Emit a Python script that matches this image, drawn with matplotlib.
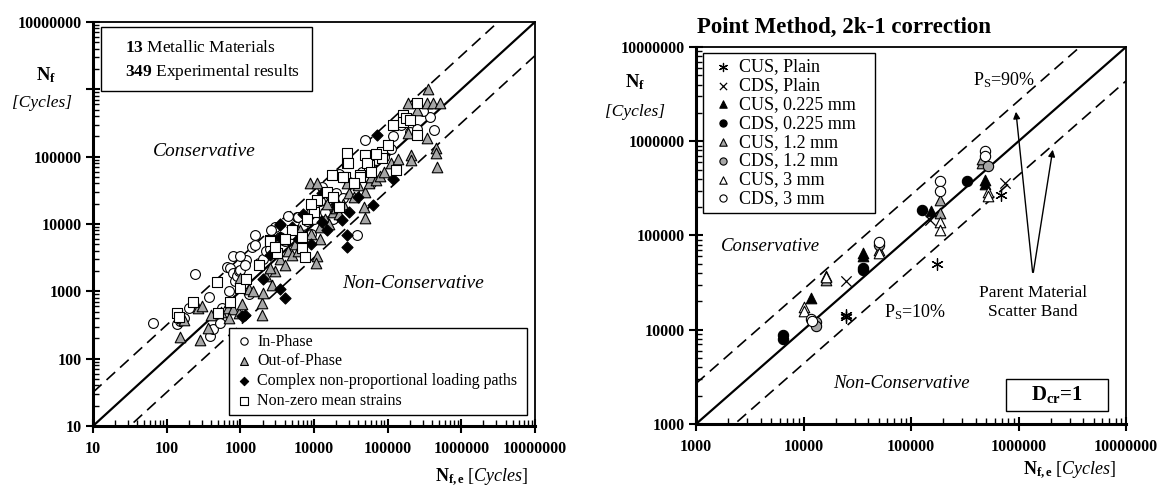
import numpy as np
import matplotlib.pyplot as plt
from matplotlib.patches import Rectangle
from matplotlib.ticker import LogLocator, NullFormatter

plt.rcParams['font.family'] = ['Liberation Serif', 'DejaVu Serif']
plt.rcParams['mathtext.fontset'] = 'custom'
plt.rcParams['mathtext.rm'] = 'Liberation Serif'
plt.rcParams['mathtext.it'] = 'Liberation Serif:italic'
plt.rcParams['mathtext.bf'] = 'Liberation Serif:bold'

# ---- left panel data: (estimated life, experimental life) in cycles ----
in_phase = [
    (65, 340), (140, 330), (150, 360), (170, 400), (200, 560), (240, 1800), (380, 830), (390, 220), (420, 280), (530, 340),
    (560, 560), (650, 2300), (720, 2200), (790, 1900), (800, 3300), (850, 1400), (900, 1700), (950, 2000), (1000, 2100), (1100, 1300),
    (1200, 2900), (1300, 900), (1450, 4600), (1600, 6900), (1600, 4900), (1800, 2600), (2000, 3000), (2200, 4000), (2500, 4300), (3000, 9000),
    (3500, 6500), (4000, 5500), (5000, 7200), (5800, 12500), (6000, 12700), (7000, 9500), (8000, 11000), (9000, 7000), (10000, 12000), (12000, 22000),
    (14000, 15000), (16000, 28000), (20000, 29000), (25000, 24000), (30000, 42000), (38000, 6900), (45000, 60000), (49000, 178000), (60000, 40000), (70000, 90000),
    (90000, 100000), (110000, 130000), (150000, 300000), (160000, 420000), (170000, 350000), (200000, 230000), (250000, 260000), (370000, 390000), (420000, 250000), (300000, 480000),
    (700, 1000), (1000, 3400), (1150, 2500), (2600, 8000), (4500, 13000), (13000, 35000), (18000, 12000), (22000, 55000), (35000, 30000), (120000, 200000),
]
out_of_phase = [
    (150, 210), (160, 400), (170, 380), (280, 190), (265, 560), (300, 600), (360, 290), (550, 500), (680, 560), (700, 700),
    (800, 550), (990, 1600), (950, 480), (1050, 650), (1950, 450), (1950, 670), (2050, 950), (2650, 1240), (2200, 1700), (1300, 1100),
    (3000, 2000), (3500, 3000), (4000, 2500), (4500, 4000), (5000, 3500), (5500, 5000), (6000, 4000), (7000, 6000), (8200, 14500), (8700, 41000),
    (11000, 41000), (11000, 3300), (10500, 2650), (12000, 6000), (12000, 9000), (14000, 12000), (16000, 10000), (18000, 15000), (20000, 17000), (22000, 14000),
    (25000, 20000), (30000, 29000), (35000, 25000), (40000, 38000), (48000, 18000), (50000, 12300), (50000, 30000), (55000, 40000), (60000, 50000), (70000, 45000),
    (78000, 51000), (90000, 60000), (110000, 80000), (140000, 93000), (186000, 225000), (186000, 630000), (210000, 107000), (210000, 90000), (340000, 630000), (340000, 190000),
    (350000, 1000000), (410000, 630000), (450000, 135000), (450000, 115000), (470000, 71000), (510000, 630000), (250000, 500000), (3500, 6000), (6500, 8000), (9000, 7000),
    (15000, 20000), (28000, 40000), (1500, 1000), (2500, 2200), (700, 400), (400, 450),
]
complex_np = [
    (1050, 430), (1150, 440), (3500, 1100), (4000, 800), (2000, 1500), (3500, 9700), (3500, 10000), (3500, 6400), (5000, 9000), (6000, 6000),
    (13000, 29000), (12800, 10700), (15000, 8000), (24000, 11500), (28000, 6900), (28000, 4600), (30000, 15000), (63000, 19000), (71000, 210000), (118000, 46000),
    (20000, 20000), (9000, 5000), (40000, 25000), (2500, 3500), (7000, 14000),
]
mean_strain = [
    (138, 480), (145, 420), (230, 690), (480, 1380), (500, 480), (720, 690), (990, 1130), (1200, 1500), (2500, 5800), (2500, 5500),
    (3100, 3700), (6800, 6400), (6800, 4400), (7500, 3200), (11000, 23000), (22000, 18000), (26000, 50000), (42000, 53000), (17500, 53000), (28000, 80000),
    (56000, 75000), (28000, 115000), (29000, 80000), (49000, 107000), (52000, 80000), (85000, 118000), (85000, 95000), (130000, 63000), (42000, 50000), (25000, 50000),
    (163000, 420000), (163000, 330000), (250000, 630000), (250000, 210000), (180000, 380000), (15000, 30000), (10000, 15000), (9000, 20000), (5000, 8000), (4000, 6000),
    (18000, 25000), (35000, 40000), (60000, 60000), (70000, 110000), (100000, 150000), (120000, 300000), (200000, 350000), (1800, 2500), (3000, 4500), (8000, 12000),
]

# ---- right panel data ----
cus_plain = [(25000, 14500), (25000, 13500), (174000, 50000), (680000, 270000)]
cds_plain = [(25000, 32500), (750000, 360000), (150000, 145000)]
cus_0225 = [(11700, 21500), (35500, 65000), (35500, 60000), (155000, 180000), (490000, 390000), (490000, 350000)]
cds_0225 = [(6500, 8800), (6500, 7900), (35500, 45500), (35500, 43000), (126000, 187000), (335000, 375000)]
cus_12 = [(16300, 37000), (16300, 34000), (186000, 240000), (186000, 175000), (460000, 590000), (460000, 650000), (50000, 70000)]
cds_12 = [(13000, 12000), (13000, 11000), (520000, 550000), (50000, 80000)]
cus_3 = [(10000, 17500), (10000, 16000), (16300, 36000), (186000, 138000), (186000, 115000), (520000, 290000), (520000, 260000), (50000, 65000)]
cds_3 = [(11800, 13000), (186000, 375000), (186000, 300000), (490000, 780000), (490000, 700000), (50000, 85000), (12000, 12500)]

GRAY = '#a6a6a6'


def style_axes(ax, lo_exp, hi_exp, skip_y=()):
    lo, hi = 10.0 ** lo_exp, 10.0 ** hi_exp
    ax.set_xscale('log')
    ax.set_yscale('log')
    ax.set_xlim(lo, hi)
    ax.set_ylim(lo, hi)
    decades = [10 ** k for k in range(lo_exp, hi_exp + 1)]
    ax.set_xticks(decades)
    ax.set_yticks(decades)
    ax.set_xticklabels([str(d) for d in decades], fontweight='bold', fontsize=11.5)
    # the original hides one y label behind the axis title
    ax.set_yticklabels(['' if d in skip_y else str(d) for d in decades], fontweight='bold', fontsize=11.5)
    for axis in (ax.xaxis, ax.yaxis):
        axis.set_minor_locator(LogLocator(base=10, subs=np.arange(2, 10)))
        axis.set_minor_formatter(NullFormatter())
    ax.tick_params(which='major', direction='inout', length=10, width=1.5, pad=3)
    ax.tick_params(which='minor', direction='in', length=4, width=1)
    ax.tick_params(axis='x', which='major', pad=6)
    for side in ('left', 'bottom'):
        ax.spines[side].set_linewidth(2.2)
    for side in ('top', 'right'):
        ax.spines[side].set_linewidth(1.3)


def pts(data):
    arr = np.array(data, dtype=float)
    return arr[:, 0], arr[:, 1]


fig = plt.figure(figsize=(11.61, 4.86), dpi=100)
ax1 = fig.add_axes([0.0801, 0.1235, 0.3807, 0.8313])
ax2 = fig.add_axes([0.5995, 0.1276, 0.3704, 0.7757])

# ---------------- left panel ----------------
style_axes(ax1, 1, 7, skip_y=(10 ** 6,))
line = np.array([10.0, 1e7])
ax1.plot(line, line, color='black', lw=1.6, zorder=2)
ax1.plot(line, line * 10 ** 0.5, color='black', lw=1.2, dashes=(7, 4), zorder=2)
ax1.plot(line, line / 10 ** 0.5, color='black', lw=1.2, dashes=(7, 4), zorder=2)

x, y = pts(in_phase)
ax1.scatter(x, y, marker='o', s=50, facecolor='white', edgecolor='black', linewidths=0.8, zorder=3, label='In-Phase')
x, y = pts(out_of_phase)
ax1.scatter(x, y, marker='^', s=58, facecolor=GRAY, edgecolor='black', linewidths=0.8, zorder=3, label='Out-of-Phase')
x, y = pts(complex_np)
ax1.scatter(x, y, marker='D', s=32, facecolor='black', edgecolor='black', linewidths=0.8, zorder=3,
            label='Complex non-proportional loading paths')
x, y = pts(mean_strain)
ax1.scatter(x, y, marker='s', s=58, facecolor='white', edgecolor='black', linewidths=0.8, zorder=3,
            label='Non-zero mean strains')

leg1 = ax1.legend(loc='lower left', bbox_to_anchor=(0.308, 0.027, 0.674, 0.218), mode='expand',
                  borderaxespad=0, fancybox=False, edgecolor='black', framealpha=1, fontsize=11.5,
                  handletextpad=0.2, labelspacing=0.25, markerscale=0.75, borderpad=0.35, handlelength=1.2)
leg1.get_frame().set_linewidth(1.0)

ax1.add_patch(Rectangle((0.018, 0.83), 0.477, 0.158, transform=ax1.transAxes,
                        fill=False, edgecolor='black', lw=1.0, zorder=4))
ax1.text(0.072, 0.936, r'$\mathbf{13}$ Metallic Materials', transform=ax1.transAxes,
         fontsize=12.5, va='center', ha='left')
ax1.text(0.072, 0.876, r'$\mathbf{349}$ Experimental results', transform=ax1.transAxes,
         fontsize=12.5, va='center', ha='left')
ax1.text(325, 118000, 'Conservative', fontsize=14, style='italic', ha='center', va='center')
ax1.text(220000, 1320, 'Non-Conservative', fontsize=14, style='italic', ha='center', va='center')

fig.text(0.0396, 0.834, r'$\mathbf{N_f}$', fontsize=13.5, ha='center', va='baseline')
fig.text(0.036, 0.780, '[Cycles]', fontsize=12.5, style='italic', ha='center', va='baseline')
fig.text(0.455, 0.0185, r'$\mathbf{N_{f,e}}$ $\mathit{[Cycles]}$', fontsize=13, ha='right', va='center')

# ---------------- right panel ----------------
style_axes(ax2, 3, 7)
line = np.array([1e3, 1e7])
ax2.plot(line, line, color='black', lw=1.6, zorder=2)
ax2.plot(line, line * 2.69, color='black', lw=1.2, dashes=(7, 4), zorder=2)
ax2.plot(line, line / 2.29, color='black', lw=1.2, dashes=(7, 4), zorder=2)

series = [
    (cus_plain, (6, 2, 0), 'black', 'black', 70, 'CUS, Plain'),
    (cds_plain, 'x', 'black', 'black', 55, 'CDS, Plain'),
    (cus_0225, '^', 'black', 'black', 58, 'CUS, 0.225 mm'),
    (cds_0225, 'o', 'black', 'black', 55, 'CDS, 0.225 mm'),
    (cus_12, '^', GRAY, 'black', 58, 'CUS, 1.2 mm'),
    (cds_12, 'o', GRAY, 'black', 55, 'CDS, 1.2 mm'),
    (cus_3, '^', 'white', 'black', 58, 'CUS, 3 mm'),
    (cds_3, 'o', 'white', 'black', 55, 'CDS, 3 mm'),
]
for data, mk, fc, ec, size, lab in series:
    x, y = pts(data)
    if mk in ('x', (6, 2, 0)):
        ax2.scatter(x, y, marker=mk, s=size, color=ec, linewidths=0.9, zorder=3, label=lab)
    else:
        ax2.scatter(x, y, marker=mk, s=size, facecolor=fc, edgecolor=ec, linewidths=0.8, zorder=3, label=lab)

leg2 = ax2.legend(loc='upper left', bbox_to_anchor=(0.016, 0.538, 0.40, 0.446), mode='expand',
                  borderaxespad=0, fancybox=False, edgecolor='black', framealpha=1, fontsize=13,
                  handletextpad=0.1, labelspacing=0.1, markerscale=0.7, borderpad=0.3, handlelength=1.6)
leg2.get_frame().set_linewidth(1.0)

ax2.annotate('', xy=(9.4e5, 2.2e6), xytext=(1.36e6, 3.8e4),
             arrowprops=dict(arrowstyle='-|>', color='black', lw=1.0, mutation_scale=10), zorder=4)
ax2.annotate('', xy=(2.1e6, 8.7e5), xytext=(1.36e6, 3.8e4),
             arrowprops=dict(arrowstyle='-|>', color='black', lw=1.0, mutation_scale=10), zorder=4)
ax2.text(1.36e6, 19600, 'Parent Material\nScatter Band', fontsize=12.5, ha='center', va='center', linespacing=1.25)
ax2.text(7.4e5, 4.5e6, r'P$_\mathregular{S}$=90%', fontsize=13, ha='center', va='center')
ax2.text(1.1e5, 15500, r'P$_\mathregular{S}$=10%', fontsize=13, ha='center', va='center')
ax2.text(4900, 76000, 'Conservative', fontsize=13.5, style='italic', ha='center', va='center')
ax2.text(81000, 2700, 'Non-Conservative', fontsize=13.5, style='italic', ha='center', va='center')

ax2.add_patch(Rectangle((0.72, 0.034), 0.238, 0.086, transform=ax2.transAxes,
                        fill=False, edgecolor='black', lw=1.0, zorder=4))
ax2.text(0.839, 0.077, r'$\mathbf{D_{cr}}$=1', transform=ax2.transAxes, fontsize=15,
         fontweight='bold', ha='center', va='center')

fig.text(0.547, 0.820, r'$\mathbf{N_f}$', fontsize=13.5, ha='center', va='baseline')
fig.text(0.547, 0.762, '[Cycles]', fontsize=12.5, style='italic', ha='center', va='baseline')
fig.text(0.962, 0.033, r'$\mathbf{N_{f,e}}$ $\mathit{[Cycles]}$', fontsize=13, ha='right', va='center')
fig.text(0.600, 0.944, 'Point Method, 2k-1 correction', fontsize=16.5, fontweight='bold', ha='left', va='center')

fig.savefig('out.png', dpi=100)
